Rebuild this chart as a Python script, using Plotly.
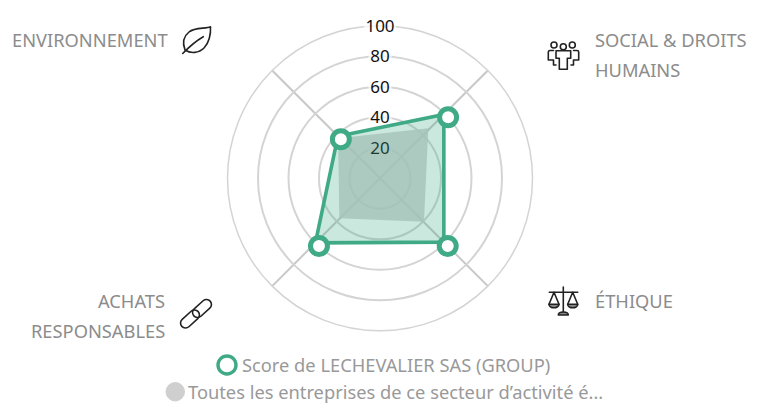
import base64
import plotly.graph_objects as go

W, H = 761, 403
CX, CY, R = 380, 178.3, 152.5
FONT = "Noto Sans"

categories = ["ENVIRONNEMENT", "SOCIAL & DROITS HUMAINS", "ÉTHIQUE", "ACHATS RESPONSABLES"]
company_scores = [39, 59.2, 59.2, 59.9]
company_angles = [135, 45, 315, 225]
marker_scores = [36.3, 60, 62.8, 59.8]
marker_angles = [135, 41.9, 315, 228]
sector_scores = [38, 45.6, 40.5, 37.4]
sector_angles = [136.2, 46, 315.4, 224.5]
radial_ticks = [20, 40, 60, 80, 100]
spoke_angles = [45, 135, 225, 315]
legend_names = ["Score de LECHEVALIER SAS (GROUP)", "Toutes les entreprises de ce secteur d’activité é..."]

GREEN = "#3faa85"
GREY_TXT = "#8c8c8c"
RING = "#d4d4d4"
INK = "#222222"
LABEL_NUDGE = 1.2


def px(x):
    return x / W


def py(y):
    return 1 - y / H


def svg_image(body, x0, y0, w, h):
    svg = (f'<svg xmlns="http://www.w3.org/2000/svg" width="{w}" height="{h}" viewBox="0 0 {w} {h}" '
           f'fill="none" stroke="{INK}" stroke-width="1.6" stroke-linecap="round" stroke-linejoin="round">{body}</svg>')
    uri = "data:image/svg+xml;base64," + base64.b64encode(svg.encode()).decode()
    return dict(source=uri, xref="paper", yref="paper", x=px(x0), y=py(y0), sizex=w / W, sizey=h / H,
                xanchor="left", yanchor="top", sizing="stretch", layer="above")


leaf = ('<path d="M31.5 2.7C27 5 16 3 10 8C5 12 3 18 6 26C12 30 20 29 25 24C30 19 32 10 31.5 2.7Z"/>'
        '<path d="M3.7 29.5C9 24 15 18 24.3 12.7"/>')
people = ('<circle cx="8" cy="7" r="3"/><circle cx="17.3" cy="8.7" r="3"/><circle cx="26.3" cy="7" r="3"/>'
          '<path d="M10 12.7H24.7Q24.7 12.7 24.7 14V20.3H21.3V31.3H13.3V20.3H10V14Q10 12.7 11 12.7"/>'
          '<path d="M7.5 12.5H4Q2.3 12.5 2.3 14V22H7.5V27H10"/>'
          '<path d="M27.5 12.5H31Q32.7 12.5 32.7 14V22H27.5V27H25"/>')
scale = ('<path d="M17.3 3V29"/><path d="M3.3 8.3H31.7"/>'
         '<path d="M8 8.3L3 20.3M8 8.3L13 20.3M26.7 8.3L21.7 20.3M26.7 8.3L31.7 20.3"/>'
         '<path d="M3 20.3H13A5 3.5 0 0 1 3 20.3Z" fill="#888888"/>'
         '<path d="M21.7 20.3H31.7A5 3.5 0 0 1 21.7 20.3Z" fill="#888888"/>'
         '<path d="M12.3 31H22.3C22.3 27 12.3 27 12.3 31Z" fill="#888888"/>')
chain = ('<rect x="-11" y="-5" width="22" height="10" rx="5" transform="translate(11,21) rotate(-42)"/>'
         '<rect x="-11" y="-5" width="22" height="10" rx="5" transform="translate(23,10.5) rotate(-42)"/>')

fig = go.Figure()

tick_text = [str(v) for v in radial_ticks]
fig.add_trace(go.Scatterpolar(
    r=radial_ticks, theta=[90] * len(radial_ticks), mode="markers", cliponaxis=False,
    marker=dict(symbol="square", color="white", size=[31 if len(t) > 2 else 22 for t in tick_text]),
    hoverinfo="skip", showlegend=False))

fig.add_trace(go.Scatterpolar(
    r=sector_scores + sector_scores[:1], theta=sector_angles + sector_angles[:1],
    mode="lines", line=dict(width=0, color="rgba(0,0,0,0)"), fill="toself",
    fillcolor="rgba(204,204,204,0.8)", hoverinfo="skip", showlegend=False))

fig.add_trace(go.Scatterpolar(
    r=[v - LABEL_NUDGE for v in radial_ticks], theta=[90] * len(radial_ticks), mode="text", cliponaxis=False,
    text=tick_text, textposition="middle center",
    textfont=dict(family=FONT, size=17, color="#111111"), hoverinfo="skip", showlegend=False))

fig.add_trace(go.Scatterpolar(
    r=company_scores + company_scores[:1], theta=company_angles + company_angles[:1],
    mode="lines", line=dict(color=GREEN, width=3.6), fill="toself",
    fillcolor="rgba(63,170,133,0.27)", hoverinfo="skip", showlegend=False))

fig.add_trace(go.Scatterpolar(
    r=marker_scores, theta=marker_angles, mode="markers",
    marker=dict(size=17, color="white", line=dict(color=GREEN, width=5)),
    hoverinfo="skip", showlegend=False))

annotations = []


def label(text, x, y, anchor, color=GREY_TXT, size=18.3):
    annotations.append(dict(text=text, xref="paper", yref="paper", x=px(x), y=py(y), xanchor=anchor,
                            yanchor="middle", showarrow=False, borderpad=0,
                            font=dict(family=FONT, size=size, color=color)))


label(categories[0], 169, 39, "right")
social = categories[1].split(" HUMAINS")[0]
label(social, 593.5, 39, "left")
label("HUMAINS", 593.5, 70, "left")
label(categories[2], 593.5, 300, "left")
achats = categories[3].split(" ")
label(achats[0], 166, 300, "right")
label(achats[1], 166, 330, "right")
label(legend_names[0], 240.5, 364, "left", "#999999")
label(legend_names[1], 186.5, 391, "left", "#999999")

shapes = [
    dict(type="circle", xref="paper", yref="paper", x0=px(218), x1=px(236), y0=py(374), y1=py(356),
         line=dict(color=GREEN, width=3.4), fillcolor="white"),
    dict(type="circle", xref="paper", yref="paper", x0=px(166), x1=px(184.5), y0=py(401), y1=py(382.5),
         line=dict(color="#cfcfcf", width=1), fillcolor="#cfcfcf"),
]

fig.update_layout(
    width=W, height=H, margin=dict(l=0, r=0, t=0, b=0), paper_bgcolor="white", plot_bgcolor="white",
    showlegend=False, annotations=annotations, shapes=shapes,
    images=[svg_image(leaf, 179, 24, 36, 36), svg_image(people, 546, 38, 36, 36),
            svg_image(scale, 546, 284, 36, 34), svg_image(chain, 179, 298, 36, 34)],
    polar=dict(
        domain=dict(x=[px(CX - R), px(CX + R)], y=[py(CY + R), py(CY - R)]),
        bgcolor="white",
        radialaxis=dict(range=[0, 100], tickvals=radial_ticks, showticklabels=False, ticks="",
                        showline=False, gridcolor=RING, gridwidth=1.5, angle=90, layer="below traces"),
        angularaxis=dict(tickmode="array", tickvals=spoke_angles, showticklabels=False, ticks="",
                         thetaunit="degrees", rotation=0, direction="counterclockwise", layer="below traces",
                         gridcolor="#c8c8c8", gridwidth=1.5, showline=True, linecolor=RING, linewidth=1.5),
    ),
)

fig.write_html("out.html", config=dict(displayModeBar=False),
               post_script="document.body.style.margin='0';document.body.style.overflow='hidden';")
